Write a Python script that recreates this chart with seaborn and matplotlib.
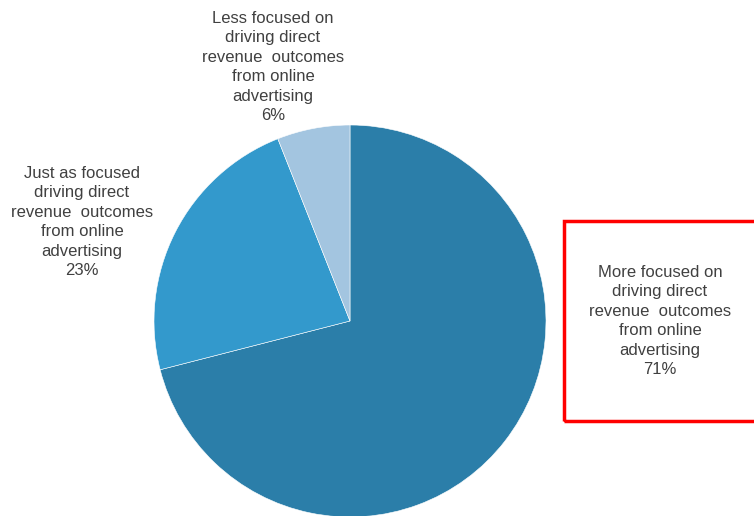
import matplotlib
matplotlib.use("Agg")
import matplotlib.pyplot as plt
from matplotlib.patches import Rectangle
import seaborn as sns

# Survey responses: focus on direct revenue outcomes from online advertising
categories = [
    "More focused on\ndriving direct\nrevenue  outcomes\nfrom online\nadvertising",
    "Just as focused\ndriving direct\nrevenue  outcomes\nfrom online\nadvertising",
    "Less focused on\ndriving direct\nrevenue  outcomes\nfrom online\nadvertising",
]
shares = [71, 23, 6]
colors = ["#2b7ea9", "#3399cc", "#a3c5e0"]

sns.set_theme(style="white")
plt.rcParams["font.family"] = ["Liberation Sans", "DejaVu Sans"]

W, H = 754, 516
fig = plt.figure(figsize=(W / 100, H / 100), dpi=100)
ax = fig.add_axes([0, 0, 1, 1])

ax.pie(shares, colors=colors, startangle=90, counterclock=False,
       center=(350, H - 321), radius=196,
       wedgeprops=dict(linewidth=0.4, edgecolor="white"))
ax.set_xlim(0, W)
ax.set_ylim(0, H)
ax.set_aspect("equal")
ax.axis("off")

# Category labels with percentages
label_pos = [(660, H - 321), (82, H - 222), (273, H - 67)]
for text, pct, (x, y) in zip(categories, shares, label_pos):
    ax.text(x, y, f"{text}\n{pct}%", ha="center", va="center",
            fontsize=12, color="#404040", linespacing=1.38)

# Highlight box around the majority answer
ax.add_patch(Rectangle((564, H - 421), 200, 200, fill=False,
                       edgecolor="#ff0000", linewidth=2.5, clip_on=False))

fig.savefig("out.png", dpi=100)
